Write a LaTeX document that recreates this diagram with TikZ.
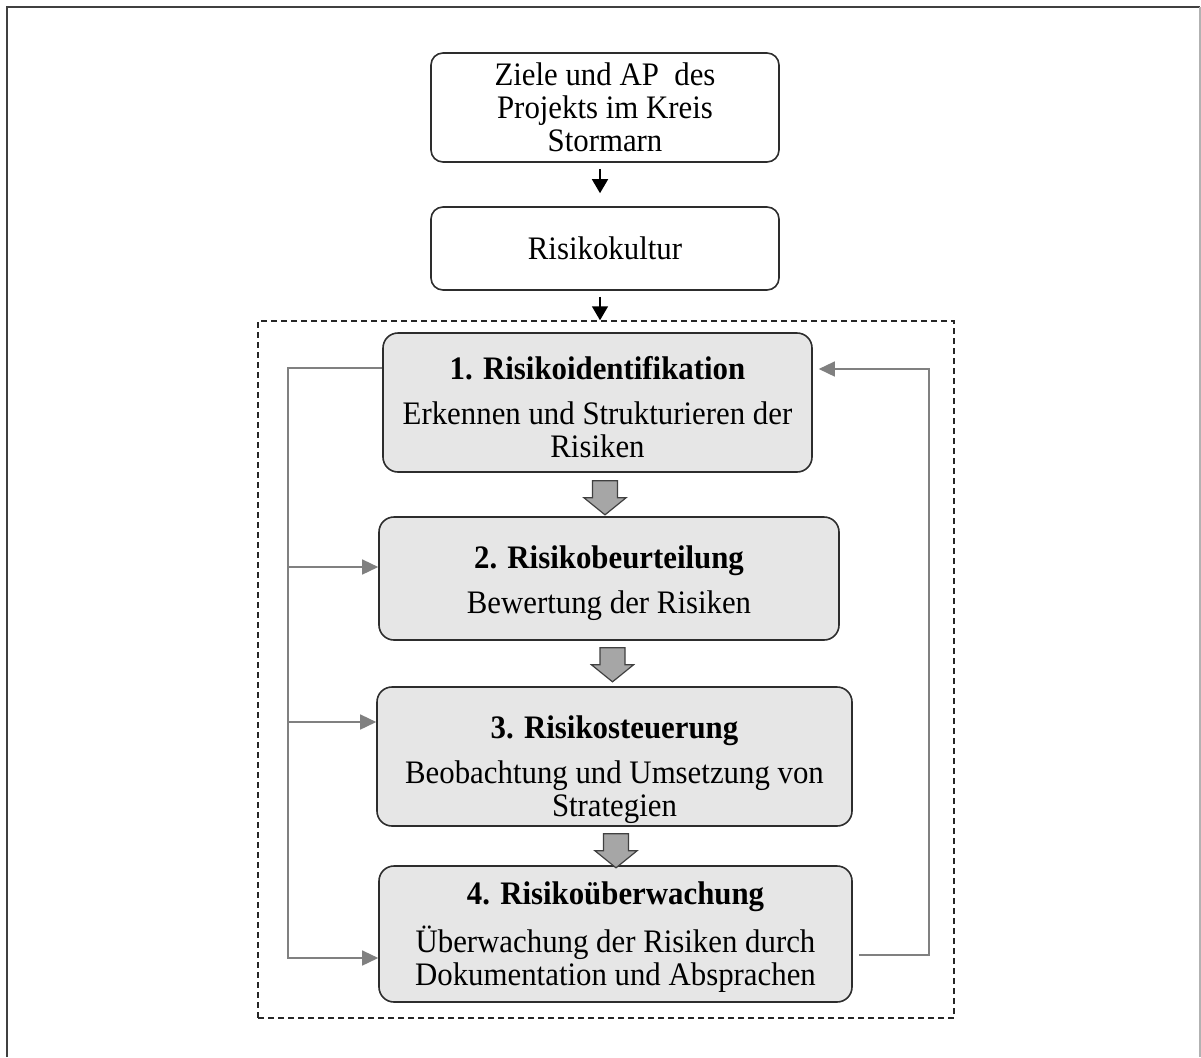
\documentclass[tikz,border=0pt]{standalone}
\usepackage{fontspec}
\setmainfont{Liberation Serif}[FakeStretch=0.94]
\usetikzlibrary{arrows.meta,calc}

\definecolor{boxfill}{RGB}{230,230,230}
\definecolor{boxline}{RGB}{45,45,45}
\definecolor{fbgray}{RGB}{128,128,128}
\definecolor{blkfill}{RGB}{166,166,166}
\definecolor{blkline}{RGB}{64,64,64}

% downward block arrow between two stages: #1 = top centre coordinate
\newcommand\blockdown[1]{%
  \filldraw[fill=blkfill, draw=blkline, line width=0.6pt, line join=miter]
    ($(#1)+(-12.5,0)$) -- ++(25,0) -- ++(0,17) -- ++(8.5,0)
    -- ++(-21,17) -- ++(-21,-17) -- ++(8.5,0) -- cycle;}

\begin{document}
\begin{tikzpicture}[x=0.5pt,y=-0.5pt,
  every node/.style={font=\fontsize{16.4pt}{16.5pt}\selectfont, align=center, inner sep=0pt, text=black},
  topbox/.style={draw=boxline, line width=0.8pt, rounded corners=6pt, fill=white, minimum width=174pt},
  stagebox/.style={draw=boxline, line width=0.8pt, rounded corners=7.5pt, fill=boxfill},
  smallarr/.style={draw=black, line width=0.75pt, -{Triangle[length=7pt,width=8pt]}},
  fbline/.style={draw=fbgray, line width=0.75pt},
  fbarr/.style={fbline, -{Triangle[length=8pt,width=7.5pt]}},
  groupbox/.style={draw=black!85, line width=0.75pt, dash pattern=on 3pt off 2pt}
]
\useasboundingbox (0,0) rectangle (1201,1057);

% page frame
\draw[line width=1.4pt, draw=black!75] (7,1057) -- (7,7) -- (1200,7);
\draw[line width=0.6pt, draw=black!30] (1200,7) -- (1200,1057);

% dashed frame around the risk management cycle
\node[groupbox, minimum width=348pt, minimum height=348.5pt] (grp) at (606,669.5) {};

% upper boxes
\node[topbox, minimum height=54.5pt] (ziele) at (605,107.5)
  {\fontsize{16.4pt}{17pt}\selectfont Ziele und AP~ des\\ Projekts im Kreis\\ Stormarn};
\node[topbox, minimum height=41.5pt] (kultur) at (605,248.5) {Risikokultur};

% the four stages
\node[stagebox, minimum width=214.5pt, minimum height=69.5pt] (s1) at (597.5,402.5) {};
\node[stagebox, minimum width=230pt, minimum height=61.5pt] (s2) at (609,578.5) {};
\node[stagebox, minimum width=237.5pt, minimum height=69.5pt] (s3) at (614.5,756.5) {};
\node[stagebox, minimum width=236.5pt, minimum height=68pt] (s4) at (615.5,934) {};

\node (s1text) at ($(s1.center)+(0,5)$)
  {\textbf{1. Risikoidentifikation}\\[6pt] Erkennen und Strukturieren der\\ Risiken};
\node (s2text) at ($(s2.center)+(0,5)$)
  {\textbf{2. Risikobeurteilung}\\[6pt] Bewertung der Risiken};
\node (s3text) at ($(s3.center)+(0,13)$)
  {\textbf{3. Risikosteuerung}\\[6pt] Beobachtung und Umsetzung von\\ Strategien};
\node (s4text) at ($(s4.center)+(0,3)$)
  {\textbf{4. Risikoüberwachung}\\[6pt] Überwachung der Risiken durch\\ Dokumentation und Absprachen};

% small arrows at the top
\coordinate (ax) at (600,0);
\draw[smallarr, shorten <=3pt, shorten >=6.5pt] (ziele.south -| ax) -- (kultur.north -| ax);
\draw[smallarr, shorten <=3pt] (kultur.south -| ax) -- (grp.north -| ax);

% block arrows between the stages
\coordinate (d1) at ($(s1.south)+(7.5,8)$);
\coordinate (d2) at ($(s2.south)+(3.5,7)$);
\coordinate (d3) at ($(s3.south)+(1.5,7)$);
\blockdown{d1}
\blockdown{d2}
\blockdown{d3}

% return path on the left
\coordinate (fbT) at (288,368);
\coordinate (fb2) at (288,567);
\coordinate (fb3) at (288,722);
\coordinate (fbB) at (288,958);
\draw[fbarr] (s1.west |- fbT) -- (fbT) -- (fbB) -- (s4.west |- fbB);
\draw[fbarr] (fb2) -- (s2.west |- fb2);
\draw[fbarr] (fb3) -- (s3.west |- fb3);

% return path on the right
\coordinate (fbRb) at (929,955);
\coordinate (fbRt) at (929,369);
\draw[fbarr, shorten <=3pt, shorten >=3pt] (s4.east |- fbRb) -- (fbRb) -- (fbRt) -- (s1.east |- fbRt);
\end{tikzpicture}
\end{document}
